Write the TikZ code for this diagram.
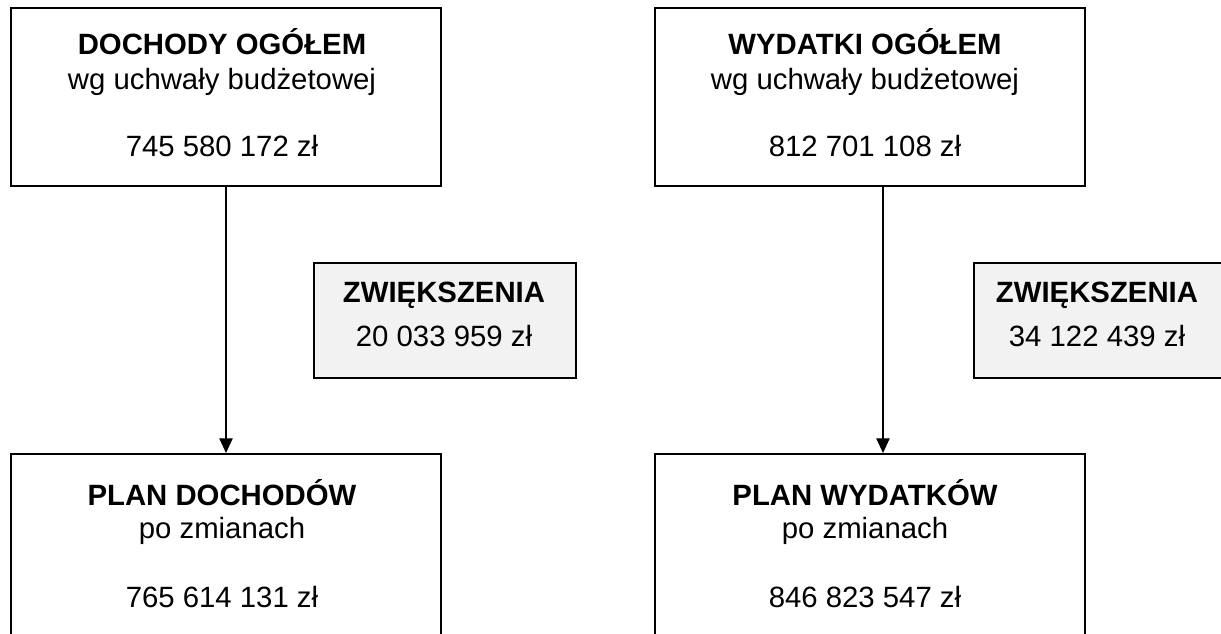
\documentclass[tikz,border=0pt]{standalone}
\usepackage{fontspec}
\setmainfont{Liberation Sans}
\usetikzlibrary{arrows.meta}
\begin{document}
\begin{tikzpicture}[x=0.75pt,y=-0.75pt,
  box/.style={draw, line width=1.5pt, anchor=north west, inner sep=0pt, minimum width=322.5pt, minimum height=133.5pt},
  lowbox/.style={box, minimum height=160pt},
  gbox/.style={draw, line width=1.5pt, anchor=north west, inner sep=0pt, fill=black!5, minimum width=196.5pt, minimum height=86.25pt},
  txt/.style={anchor=base, inner sep=0pt, font=\fontsize{22}{26}\selectfont},
  hd/.style={txt, font=\fontsize{22}{26}\selectfont\bfseries},
  arr/.style={line width=0.9pt, -{Triangle[length=11pt,width=10pt]}}]
\useasboundingbox (0,0) rectangle (1221,634);
\clip (0,0) rectangle (1221,634);
% boxes
\node[box] (dtop) at (10,7) {};
\node[box] (wtop) at (654,7) {};
\node[lowbox] (dbot) at (10,453) {};
\node[lowbox] (wbot) at (654,453) {};
\node[gbox] (dinc) at (313,262) {};
\node[gbox] (winc) at (973,262) {};
% texts left
\node[hd] (t1) at (222,55) {DOCHODY OGÓŁEM};
\node[txt] (t2) at (222,90) {wg uchwały budżetowej};
\node[txt] (t3) at (222,157) {745 580 172 zł};
\node[hd] (t4) at (444,303) {ZWIĘKSZENIA};
\node[txt] (t5) at (444,347) {20 033 959 zł};
\node[hd] (t6) at (222,505) {PLAN DOCHODÓW};
\node[txt] (t7) at (222,538) {po zmianach};
\node[txt] (t8) at (222,607) {765 614 131 zł};
% texts right
\node[hd] (u1) at (865,55) {WYDATKI OGÓŁEM};
\node[txt] (u2) at (865,90) {wg uchwały budżetowej};
\node[txt] (u3) at (865,157) {812 701 108 zł};
\node[hd] (u4) at (1097,303) {ZWIĘKSZENIA};
\node[txt] (u5) at (1097,347) {34 122 439 zł};
\node[hd] (u6) at (865,505) {PLAN WYDATKÓW};
\node[txt] (u7) at (865,538) {po zmianach};
\node[txt] (u8) at (865,607) {846 823 547 zł};
% connectors
\coordinate (cl) at (226,0);
\coordinate (cr) at (883,0);
\draw[arr] (cl |- dtop.south) -- (cl |- dbot.north);
\draw[arr] (cr |- wtop.south) -- (cr |- wbot.north);
\end{tikzpicture}
\end{document}
